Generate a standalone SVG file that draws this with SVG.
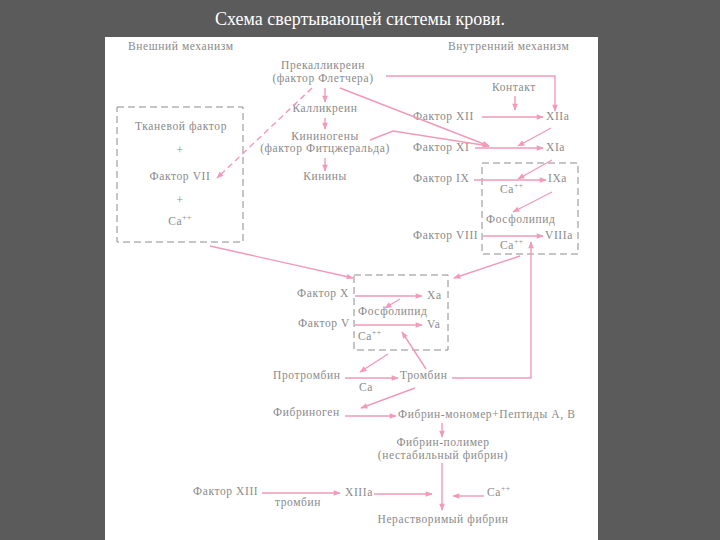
<svg xmlns="http://www.w3.org/2000/svg" width="720" height="540" viewBox="0 0 720 540">
<defs>
<style>
.t{font-family:"Liberation Serif","DejaVu Serif",serif;font-size:11.5px;letter-spacing:0.6px;fill:#8a8a8a}
.c{text-anchor:middle}
.title{font-family:"Liberation Serif","DejaVu Serif",serif;font-size:18px;fill:#ffffff;text-anchor:middle}
.box{fill:none;stroke:#8c8c8c;stroke-width:1;stroke-dasharray:7 4}
.ln{fill:none;stroke:#f29ab8;stroke-width:1.4}
.dl{fill:none;stroke:#f29ab8;stroke-width:1.4;stroke-dasharray:6 4}
</style>
<marker id="ah" viewBox="0 0 10 10" refX="9" refY="5" markerWidth="9" markerHeight="7" markerUnits="userSpaceOnUse" orient="auto">
<path d="M0,1 L10,5 L0,9 z" fill="#f29ab8"/>
</marker>
</defs>
<rect x="0" y="0" width="720" height="540" fill="#5b5b5b"/>
<rect x="105" y="37" width="493" height="503" fill="#ffffff"/>
<text class="title" x="360" y="25">Схема свертывающей системы крови.</text>

<g id="headers">
<text class="t" x="128" y="50">Внешний механизм</text>
<text class="t" x="448" y="50">Внутренний механизм</text>
</g>

<g id="extrinsic-box">
<rect class="box" x="117" y="107" width="126" height="135"/>
<text class="t c" x="181" y="130">Тканевой фактор</text>
<text class="t c" x="180" y="154">+</text>
<text class="t c" x="180" y="180">Фактор VII</text>
<text class="t c" x="180" y="204">+</text>
<text class="t c" x="180" y="225">Ca<tspan dy="-5" font-size="7.5">++</tspan></text>
</g>

<g id="prekallikrein"><text class="t c" x="323" y="69">Прекалликреин</text><text class="t c" x="323" y="82">(фактор Флетчера)</text></g>
<g id="kallikrein"><text class="t c" x="325" y="112">Калликреин</text></g>
<g id="kininogens"><text class="t c" x="325" y="140">Кининогены</text><text class="t c" x="325" y="152">(фактор Фитцжеральда)</text></g>
<g id="kinins"><text class="t c" x="325" y="180">Кинины</text></g>

<g id="contact"><text class="t c" x="514" y="91">Контакт</text></g>
<g id="f12"><text class="t" x="413" y="120">Фактор XII</text></g>
<g id="f12a"><text class="t" x="546" y="120">XIIa</text></g>
<g id="f11"><text class="t" x="413" y="151">Фактор XI</text></g>
<g id="f11a"><text class="t" x="546" y="151">XIa</text></g>

<g id="intrinsic-box">
<rect class="box" x="482" y="163" width="96" height="91"/>
<text class="t" x="500" y="193">Ca<tspan dy="-5" font-size="7.5">++</tspan></text>
<text class="t" x="486" y="223">Фосфолипид</text>
<text class="t" x="500" y="249">Ca<tspan dy="-5" font-size="7.5">++</tspan></text>
</g>
<g id="f9"><text class="t" x="413" y="182">Фактор IX</text></g>
<g id="f9a"><text class="t" x="548" y="182">IXa</text></g>
<g id="f8"><text class="t" x="413" y="239">Фактор VIII</text></g>
<g id="f8a"><text class="t" x="545" y="239">VIIIa</text></g>

<g id="prothrombinase-box">
<rect class="box" x="354" y="275" width="94" height="75"/>
<text class="t" x="358" y="315">Фосфолипид</text>
<text class="t" x="358" y="340">Ca<tspan dy="-5" font-size="7.5">++</tspan></text>
</g>
<g id="f10"><text class="t" x="297" y="297">Фактор X</text></g>
<g id="f10a"><text class="t" x="427" y="299">Xa</text></g>
<g id="f5"><text class="t" x="298" y="327">Фактор V</text></g>
<g id="f5a"><text class="t" x="427" y="328">Va</text></g>

<g id="prothrombin"><text class="t" x="273" y="379">Протромбин</text></g>
<g id="ca1"><text class="t" x="359" y="391">Ca</text></g>
<g id="thrombin"><text class="t" x="400" y="379">Тромбин</text></g>
<g id="fibrinogen"><text class="t" x="273" y="416">Фибриноген</text></g>
<g id="fibrin-monomer"><text class="t" x="398" y="418">Фибрин-мономер+Пептиды А, В</text></g>
<g id="fibrin-polymer"><text class="t c" x="443" y="446">Фибрин-полимер</text><text class="t c" x="443" y="459">(нестабильный фибрин)</text></g>
<g id="f13"><text class="t" x="193" y="495">Фактор XIII</text></g>
<g id="thrombin2"><text class="t" x="275" y="506">тромбин</text></g>
<g id="f13a"><text class="t" x="345" y="496">XIIIa</text></g>
<g id="ca2"><text class="t" x="487" y="496">Ca<tspan dy="-5" font-size="7.5">++</tspan></text></g>
<g id="insoluble-fibrin"><text class="t c" x="443" y="523">Нерастворимый фибрин</text></g>

<g id="connectors">
<path class="ln" d="M386,76 H555 V111" marker-end="url(#ah)"/>
<path class="ln" d="M515,96 V110" marker-end="url(#ah)"/>
<path class="ln" d="M482,117 H543" marker-end="url(#ah)"/>
<path class="ln" d="M325,88 V102" marker-end="url(#ah)"/>
<path class="ln" d="M325,118 V129" marker-end="url(#ah)"/>
<path class="ln" d="M325,158 V171" marker-end="url(#ah)"/>
<path class="ln" d="M340,88 L489,146" marker-end="url(#ah)"/>
<path class="ln" d="M370,140 L393,131 L489,146" marker-end="url(#ah)"/>
<path class="ln" d="M551,128 L518,146" marker-end="url(#ah)"/>
<path class="ln" d="M475,148 H543" marker-end="url(#ah)"/>
<path class="ln" d="M552,160 L518,179" marker-end="url(#ah)"/>
<path class="ln" d="M474,180 H546" marker-end="url(#ah)"/>
<path class="ln" d="M552,192 L513,212" marker-end="url(#ah)"/>
<path class="ln" d="M483,236 H543" marker-end="url(#ah)"/>
<path class="ln" d="M452,378 H531 V242" marker-end="url(#ah)"/>
<path class="ln" d="M520,256 L454,278" marker-end="url(#ah)"/>
<path class="ln" d="M210,246 L353,278" marker-end="url(#ah)"/>
<path class="dl" d="M312,88 L217,178" marker-end="url(#ah)"/>
<path class="ln" d="M355,296 H422" marker-end="url(#ah)"/>
<path class="ln" d="M355,325 H422" marker-end="url(#ah)"/>
<path class="ln" d="M400,299 L385,308" marker-end="url(#ah)"/>
<path class="ln" d="M426,369 L402,332" marker-end="url(#ah)"/>
<path class="ln" d="M388,354 L360,372" marker-end="url(#ah)"/>
<path class="ln" d="M345,378 H398" marker-end="url(#ah)"/>
<path class="ln" d="M415,388 L361,408" marker-end="url(#ah)"/>
<path class="ln" d="M345,416 H396" marker-end="url(#ah)"/>
<path class="ln" d="M442,423 V437" marker-end="url(#ah)"/>
<path class="ln" d="M442,463 V510" marker-end="url(#ah)"/>
<path class="ln" d="M262,493 H340" marker-end="url(#ah)"/>
<path class="ln" d="M374,494 H432" marker-end="url(#ah)"/>
<path class="ln" d="M484,496 H453" marker-end="url(#ah)"/>
</g>
</svg>
